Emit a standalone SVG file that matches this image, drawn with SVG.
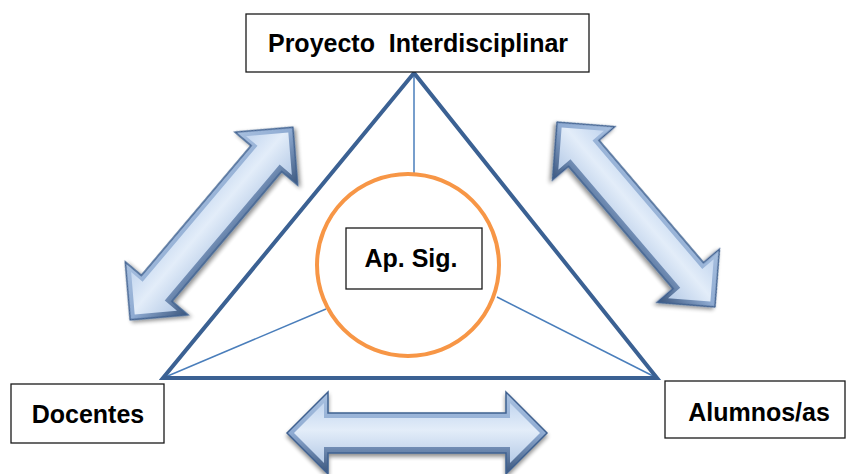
<svg xmlns="http://www.w3.org/2000/svg" width="847" height="474" viewBox="0 0 847 474">
<style>
.box{fill:#fff;stroke:#1a1a1a;stroke-width:1.3}
.lbl{font-family:"Liberation Sans",Arial,sans-serif;font-weight:bold;font-size:25px;fill:#000;text-anchor:middle}
.thin{stroke:#4a7ebb;stroke-width:1.5;fill:none}
.arrOuter{fill:url(#gOuter);stroke:#3f6190;stroke-width:1.5;filter:url(#sh)}
.arrInner{fill:url(#gInner);stroke:none}
</style>
<defs>
<linearGradient id="gOuter" x1="0" y1="0" x2="0" y2="1">
<stop offset="0" stop-color="#a9c1e0"/>
<stop offset="0.5" stop-color="#8fabd2"/>
<stop offset="1" stop-color="#3a557c"/>
</linearGradient>
<linearGradient id="gInner" x1="0" y1="0" x2="0" y2="1">
<stop offset="0" stop-color="#c3d6ef"/>
<stop offset="0.45" stop-color="#e3edf9"/>
<stop offset="1" stop-color="#b6cbe7"/>
</linearGradient>
<filter id="sh" x="-20%" y="-40%" width="140%" height="180%">
<feGaussianBlur in="SourceAlpha" stdDeviation="2"/>
<feOffset dx="0" dy="3" result="b"/>
<feComponentTransfer><feFuncA type="linear" slope="0.45"/></feComponentTransfer>
<feMerge><feMergeNode/><feMergeNode in="SourceGraphic"/></feMerge>
</filter>
</defs>

<g id="connectors">
<g id="arrow-left" transform="translate(211.5 223.5) rotate(-49.8)">
<path class="arrOuter" d="M -126 0 L -85 -41 L -85 -20 L 85 -20 L 85 -41 L 126 0 L 85 41 L 85 20 L -85 20 L -85 41 Z"/>
<path class="arrInner" d="M -119 0 L -89 -30 L -89 -15 L 89 -15 L 89 -30 L 119 0 L 89 30 L 89 14 L -89 14 L -89 30 Z"/>
</g>
<g id="arrow-right" transform="translate(636 214.5) rotate(49.5)">
<path class="arrOuter" d="M -121.5 0 L -80.5 -41 L -80.5 -20 L 80.5 -20 L 80.5 -41 L 121.5 0 L 80.5 41 L 80.5 20 L -80.5 20 L -80.5 41 Z"/>
<path class="arrInner" d="M -114.5 0 L -84.5 -30 L -84.5 -15 L 84.5 -15 L 84.5 -30 L 114.5 0 L 84.5 30 L 84.5 14 L -84.5 14 L -84.5 30 Z"/>
</g>
<g id="arrow-bottom" transform="translate(417 433)">
<path class="arrOuter" d="M -130 0 L -89 -41 L -89 -20 L 89 -20 L 89 -41 L 130 0 L 89 41 L 89 20 L -89 20 L -89 41 Z"/>
<path class="arrInner" d="M -123 0 L -93 -30 L -93 -15 L 93 -15 L 93 -30 L 123 0 L 93 30 L 93 14 L -93 14 L -93 30 Z"/>
</g>
<line class="thin" x1="414" y1="74" x2="414" y2="175"/>
<line class="thin" x1="163" y1="378" x2="326" y2="309"/>
<line class="thin" x1="657" y1="378" x2="497" y2="297"/>
</g>

<g id="triangle">
<polygon points="414,73 163,378 657,378" fill="none" stroke="#3b6193" stroke-width="4" stroke-linejoin="miter"/>
</g>

<g id="circle">
<circle cx="408" cy="265" r="91" fill="none" stroke="#f79646" stroke-width="4"/>
</g>

<g id="node-proyecto">
<rect class="box" x="246" y="14" width="343" height="58"/>
<text class="lbl" x="418" y="52" xml:space="preserve">Proyecto  Interdisciplinar</text>
</g>

<g id="node-apsig">
<rect class="box" x="346" y="228" width="136" height="61"/>
<text class="lbl" x="411" y="267">Ap. Sig.</text>
</g>

<g id="node-docentes">
<rect class="box" x="11" y="384" width="153" height="59"/>
<text class="lbl" x="88" y="423">Docentes</text>
</g>

<g id="node-alumnos">
<rect class="box" x="665" y="381" width="180" height="57"/>
<text class="lbl" x="759" y="421">Alumnos/as</text>
</g>
</svg>
